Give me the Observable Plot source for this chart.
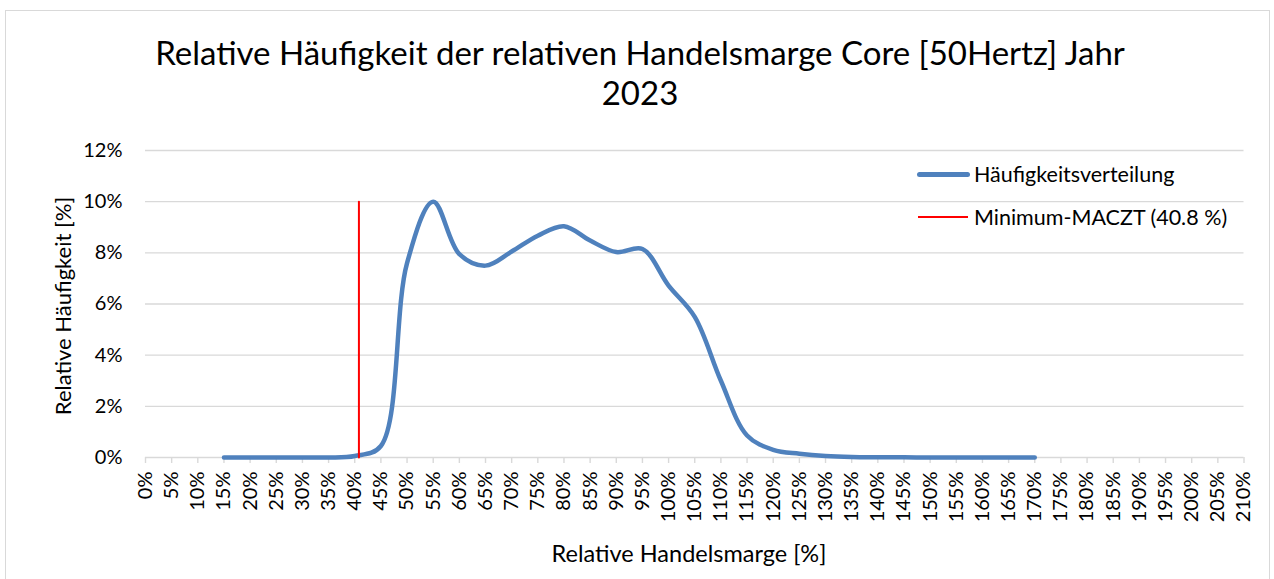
<!DOCTYPE html>
<html>
<head>
<meta charset="utf-8">
<script src="https://cdn.jsdelivr.net/npm/d3@7"></script>
<script src="https://cdn.jsdelivr.net/npm/@observablehq/plot@0.6"></script>
<style>
  html, body { margin: 0; padding: 0; background: #fff; }
  #wrap { position: relative; width: 1274px; height: 579px; overflow: hidden; font-family: Lato, "Open Sans", sans-serif; color: #000; }
  #frame { position: absolute; left: 5px; top: 10px; width: 1265px; height: 600px; border: 1px solid #d9d9d9; box-sizing: border-box; }
  #title { position: absolute; left: 0; top: 32px; width: 1280px; text-align: center; font-size: 33px; line-height: 40px; }
  #chart { position: absolute; left: 0; top: 130px; }
  .axlab { position: absolute; white-space: nowrap; font-size: 23.5px; transform: translate(-50%, -50%); }
  #ylab { transform: translate(-50%, -50%) rotate(-90deg); font-size: 22px; }
  .leg { position: absolute; font-size: 21.5px; white-space: nowrap; transform: translateY(-50%); }
  .sw { position: absolute; }
</style>
</head>
<body>
<div id="wrap">
  <div id="frame"></div>
  <div id="title">Relative Häufigkeit der relativen Handelsmarge Core [50Hertz] Jahr<br>2023</div>
  <div id="chart"></div>
  <div class="axlab" id="xlab" style="left:689px; top:553px;">Relative Handelsmarge [%]</div>
  <div class="axlab" id="ylab" style="left:62px; top:306px;">Relative Häufigkeit [%]</div>
  <div class="sw" style="left:917px; top:172px; width:53px; height:5px; border-radius:3px; background:#4f81bd;"></div>
  <div class="leg" style="left:974px; top:174px;">Häufigkeitsverteilung</div>
  <div class="sw" style="left:918px; top:216px; width:50px; height:2px; background:#ff0000;"></div>
  <div class="leg" style="left:974px; top:217px;">Minimum-MACZT (40.8 %)</div>
</div>
<script>
// Data
const margins = [15, 20, 25, 30, 35, 40, 45, 50, 55, 60, 65, 70, 75, 80, 85, 90, 95, 100, 105, 110, 115, 120, 125, 130, 135, 140, 145, 150, 155, 160, 165, 170];
const frequency = [0, 0, 0, 0, 0, 0.06, 0.45, 7.6, 10.0, 7.95, 7.5, 8.05, 8.67, 9.04, 8.48, 8.03, 8.15, 6.72, 5.5, 3.0, 0.86, 0.3, 0.15, 0.06, 0.02, 0.01, 0.005, 0, 0, 0, 0, 0];
const minMacztX = [40.8, 40.8];
const minMacztY = [0, 10];
const xTicks = d3.range(0, 211, 5);
const yTicks = [0, 2, 4, 6, 8, 10, 12];

const series = margins.map((m, i) => ({x: m, y: frequency[i]}));
const minLine = minMacztX.map((x, i) => ({x, y: minMacztY[i]}));

const plot = Plot.plot({
  width: 1274,
  height: 449,
  marginLeft: 145,
  marginRight: 30.5,
  marginTop: 20,
  marginBottom: 122,
  style: {fontFamily: "Lato, 'Open Sans', sans-serif", fontSize: "20px", color: "#000", background: "transparent"},
  x: {domain: [0, 210]},
  y: {domain: [0, 12]},
  marks: [
    Plot.gridY(yTicks, {stroke: "#d9d9d9", strokeOpacity: 1, strokeWidth: 1.4}),
    Plot.axisX(xTicks, {tickSize: 6, tickPadding: 8, tickRotate: -90, tickFormat: d => d + "%", stroke: "#d9d9d9", strokeWidth: 1.4, fontSize: 20, fill: "#000", label: null}),
    Plot.axisY(yTicks, {tickSize: 0, tickPadding: 23, tickFormat: d => d + "%", fontSize: 20, fill: "#000", label: null}),
    Plot.line(series, {x: "x", y: "y", curve: "catmull-rom", stroke: "#4f81bd", strokeWidth: 4.5, strokeLinecap: "round", strokeLinejoin: "round"}),
    Plot.line(minLine, {x: "x", y: "y", stroke: "#ff0000", strokeWidth: 2})
  ]
});
document.getElementById("chart").appendChild(plot);
</script>
</body>
</html>
